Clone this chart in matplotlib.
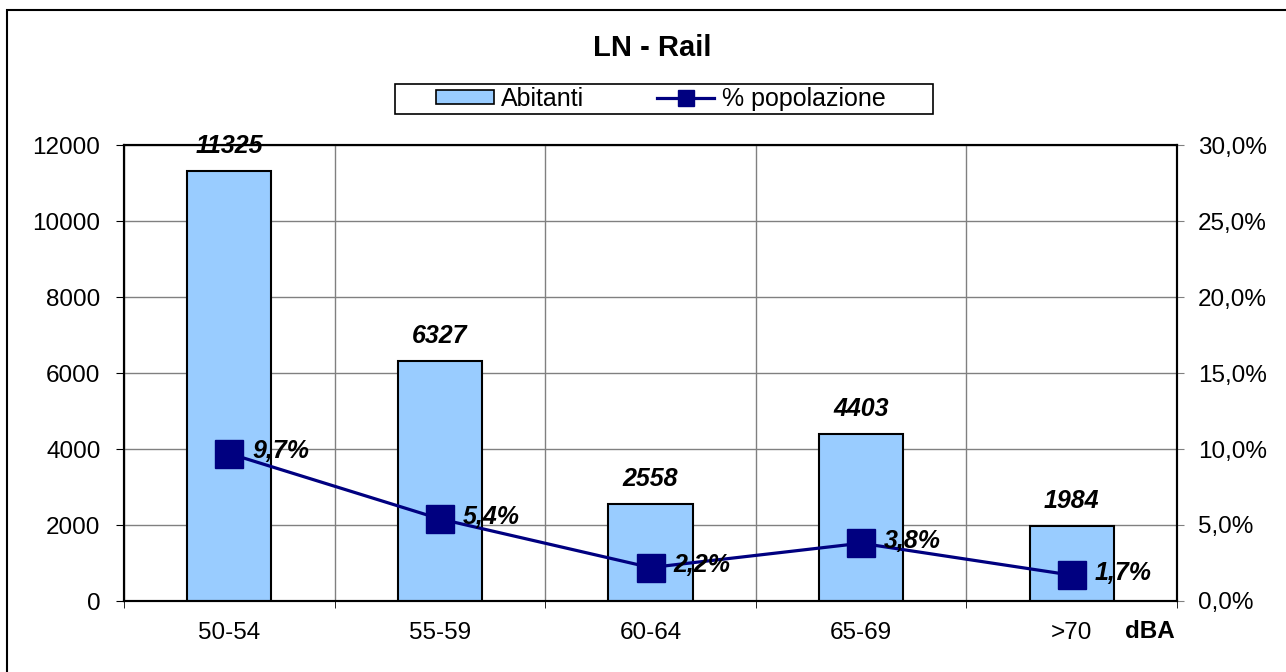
import matplotlib.pyplot as plt
from matplotlib.patches import Rectangle
from matplotlib.lines import Line2D
from matplotlib.ticker import FuncFormatter, FixedLocator

plt.rcParams['font.family'] = ['Liberation Sans', 'DejaVu Sans']

categories = ['50-54', '55-59', '60-64', '65-69', '>70']
abitanti = [11325, 6327, 2558, 4403, 1984]
percent = [9.7, 5.4, 2.2, 3.8, 1.7]

bar_color = '#99CCFF'
line_color = '#000080'
grid_color = '#808080'
fs = 17.5
fs_lab = 18

fig = plt.figure(figsize=(12.86, 6.72), dpi=100)
ax = fig.add_axes([124 / 1286, 71 / 672, 1053 / 1286, 456 / 672])
ax2 = ax.twinx()

x = list(range(len(categories)))
ax.bar(x, abitanti, width=0.4, color=bar_color, edgecolor='black', linewidth=1.5, zorder=3)
for xi, v in zip(x, abitanti):
    ax.annotate(str(v), (xi, v), xytext=(0, 18), textcoords='offset points',
                ha='center', va='center', fontsize=fs_lab, fontweight='bold',
                fontstyle='italic', zorder=5)

ax.set_xlim(-0.5, len(categories) - 0.5)
ax.set_ylim(0, 12000)
ax.set_yticks(range(0, 12001, 2000))
ax.set_xticks(x)
ax.set_xticklabels(categories)
ax.xaxis.set_minor_locator(FixedLocator([i - 0.5 for i in range(len(categories) + 1)]))
ax.tick_params(axis='x', which='major', length=0, pad=15, labelsize=fs)
ax.tick_params(axis='x', which='minor', length=5, direction='out', color='black')
ax.tick_params(axis='y', length=6, direction='out', labelsize=fs, pad=11)
ax.grid(axis='y', color=grid_color, linewidth=1, zorder=0)
ax.grid(axis='x', which='minor', color=grid_color, linewidth=1, zorder=0)
ax.set_axisbelow(True)
for sp in ax.spines.values():
    sp.set_color('black')
    sp.set_linewidth(1.5)

ax2.plot(x, percent, color=line_color, linewidth=2.3, marker='s', markersize=19.5,
         markerfacecolor=line_color, markeredgecolor=line_color, zorder=4)
for xi, p in zip(x, percent):
    ax2.annotate(f'{p:.1f}%'.replace('.', ','), (xi, p), xytext=(16.5, 1.5),
                 textcoords='offset points', ha='left', va='center',
                 fontsize=fs_lab, fontweight='bold', fontstyle='italic', zorder=5)
ax2.set_ylim(0, 30)
ax2.set_yticks(range(0, 31, 5))
ax2.yaxis.set_major_formatter(FuncFormatter(lambda v, pos: f'{v:.1f}%'.replace('.', ',')))
ax2.tick_params(axis='y', length=5, direction='out', color=grid_color, labelsize=fs, pad=10)
for sp in ax2.spines.values():
    sp.set_color('black')
    sp.set_linewidth(1.5)

fig.text(652 / 1286, 1 - 48 / 672, 'LN - Rail', ha='center', va='center',
         fontsize=21, fontweight='bold')
fig.text(1150 / 1286, 1 - 631 / 672, 'dBA', ha='center', va='center',
         fontsize=fs, fontweight='bold')

# legend: frame drawn separately to match the wide box
handles = [Rectangle((0, 0), 1, 1, facecolor=bar_color, edgecolor='black', linewidth=1.2),
           Line2D([0], [0], color=line_color, linewidth=2.3, marker='s', markersize=11.5)]
leg = fig.legend(handles, ['Abitanti', '% popolazione'], loc='center',
                 bbox_to_anchor=(661 / 1286, 1 - 99 / 672), ncol=2, fontsize=18,
                 frameon=False, borderpad=0, borderaxespad=0,
                 handlelength=2.3, handleheight=0.45, handletextpad=0.3,
                 columnspacing=2.9)
fig.patches.append(Rectangle((395 / 1286, 1 - 114 / 672), 538 / 1286, 30 / 672,
                             transform=fig.transFigure, fill=False,
                             edgecolor='black', linewidth=1.2))

fig.patches.append(Rectangle((7 / 1286, -0.05), 1.2, 1 - 10 / 672 + 0.05,
                             transform=fig.transFigure, fill=False,
                             edgecolor='black', linewidth=1.5))

fig.savefig('out.png', dpi=100)
